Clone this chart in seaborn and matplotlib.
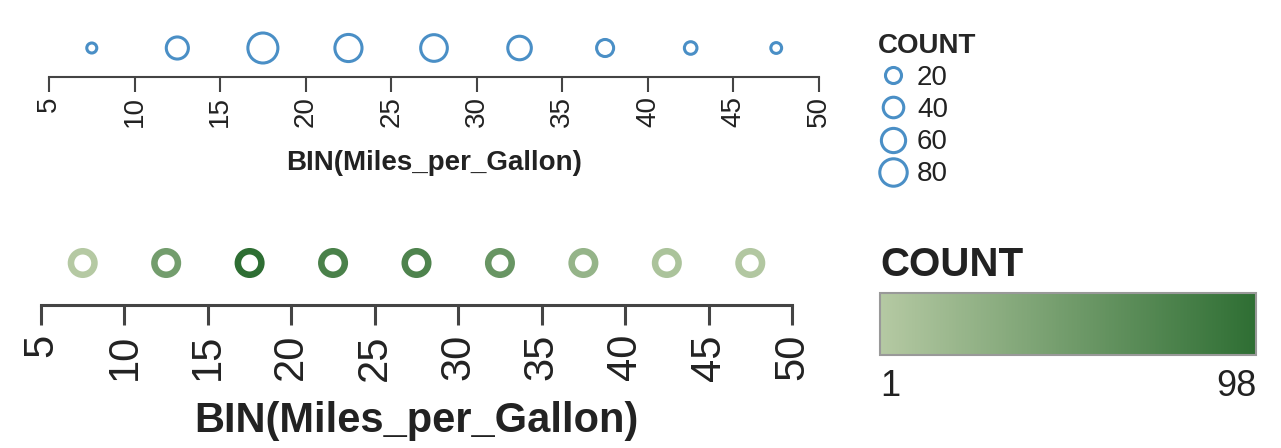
import numpy as np
import pandas as pd
import matplotlib
matplotlib.use("Agg")
import matplotlib.pyplot as plt
import seaborn as sns
from matplotlib.colors import LinearSegmentedColormap, Normalize
from matplotlib.lines import Line2D
from matplotlib.cm import ScalarMappable

# binned Miles_per_Gallon (bin step 5) and record counts
bin_mid = [7.5, 12.5, 17.5, 22.5, 27.5, 32.5, 37.5, 42.5, 47.5]
counts = [1, 48, 98, 78, 75, 56, 24, 8, 3]
x_ticks = [5, 10, 15, 20, 25, 30, 35, 40, 45, 50]
size_legend = [20, 40, 60, 80]
count_range = [1, 98]

sns.set_style("white")
plt.rcParams['font.family'] = ['Liberation Sans', 'DejaVu Sans']

df = pd.DataFrame({'bin': bin_mid, 'count': counts, 'y': 0})

W, H = 1281, 448
fig = plt.figure(figsize=(W / 100, H / 100), dpi=100)


def px_axes(x0, y0, x1, y1):
    return fig.add_axes([x0 / W, 1 - y1 / H, (x1 - x0) / W, (y1 - y0) / H])


blue = '#4a8fc6'
axis_col = '#444444'
label_col = '#222222'
greens = LinearSegmentedColormap.from_list('greens', ['#b5c9a3', '#2e6e33'])


def style_axis(ax, fs, lw, ticklen, pad, labelpad):
    ax.set_xlim(5, 50)
    ax.set_ylim(-1, 1)
    ax.set_xticks(x_ticks)
    ax.set_yticks([])
    for s in ['top', 'left', 'right']:
        ax.spines[s].set_visible(False)
    ax.spines['bottom'].set_color(axis_col)
    ax.spines['bottom'].set_linewidth(lw)
    ax.tick_params(axis='x', bottom=True, direction='out', length=ticklen, width=lw,
                   color=axis_col, labelsize=fs, pad=pad, labelrotation=90,
                   labelcolor=label_col)
    ax.set_xlabel('BIN(Miles_per_Gallon)', fontsize=fs, fontweight='bold',
                  labelpad=labelpad, color=label_col)
    ax.set_ylabel('')
    ax.patch.set_alpha(0)


# 1. size encoding
smin, smax = 52, 467
ax1 = px_axes(49, 19, 819, 77)
sns.scatterplot(data=df, x='bin', y='y', size='count', sizes=(smin, smax),
                size_norm=tuple(count_range), color=blue, legend=False, ax=ax1)
coll = ax1.collections[0]
coll.set_facecolor('none')
coll.set_edgecolor(blue)
coll.set_linewidth(2.2)
coll.set_clip_on(False)
style_axis(ax1, 20, 1.5, 10.8, 3, 16.5)


def size_of(c):
    return smin + (c - count_range[0]) * (smax - smin) / (count_range[1] - count_range[0])


handles = [Line2D([], [], marker='o', linestyle='', markersize=np.sqrt(size_of(v)),
                  markerfacecolor='none', markeredgecolor=blue, markeredgewidth=2.2)
           for v in size_legend]
leg = fig.legend(handles, [str(v) for v in size_legend], title='COUNT',
                 loc='upper left', bbox_to_anchor=(878 / W, 1 - 33 / H),
                 frameon=False, fontsize=20, title_fontproperties={'weight': 'bold', 'size': 20},
                 handlelength=1.08, handletextpad=0.32, labelspacing=0.22,
                 borderpad=0, borderaxespad=0, alignment='left')
for t in leg.get_texts():
    t.set_color(label_col)

# 2. colour encoding
ax2 = px_axes(41, 221, 792, 305)
sns.scatterplot(data=df, x='bin', y='y', hue='count', palette=greens,
                hue_norm=tuple(count_range), s=286, legend=False, ax=ax2)
coll = ax2.collections[0]
fc = coll.get_facecolors()
coll.set_edgecolors(fc)
coll.set_facecolor('none')
coll.set_linewidth(4.7)
coll.set_clip_on(False)
style_axis(ax2, 30, 2.2, 14.4, 6.5, 15)

cax = px_axes(880, 293, 1256, 355)
cb = fig.colorbar(ScalarMappable(norm=Normalize(*count_range), cmap=greens),
                  cax=cax, orientation='horizontal')
cb.outline.set_edgecolor('#999999')
cb.outline.set_linewidth(1.5)
cb.set_ticks(count_range)
cb.set_ticklabels([str(v) for v in count_range])
cax.tick_params(length=0, labelsize=26, pad=10, labelcolor=label_col)
labels = cax.get_xticklabels()
labels[0].set_ha('left')
labels[1].set_ha('right')
fig.text(880 / W, 1 - 265 / H, 'COUNT', fontsize=29, fontweight='bold',
         ha='left', va='center', color=label_col)

fig.savefig('out.png', dpi=100)
